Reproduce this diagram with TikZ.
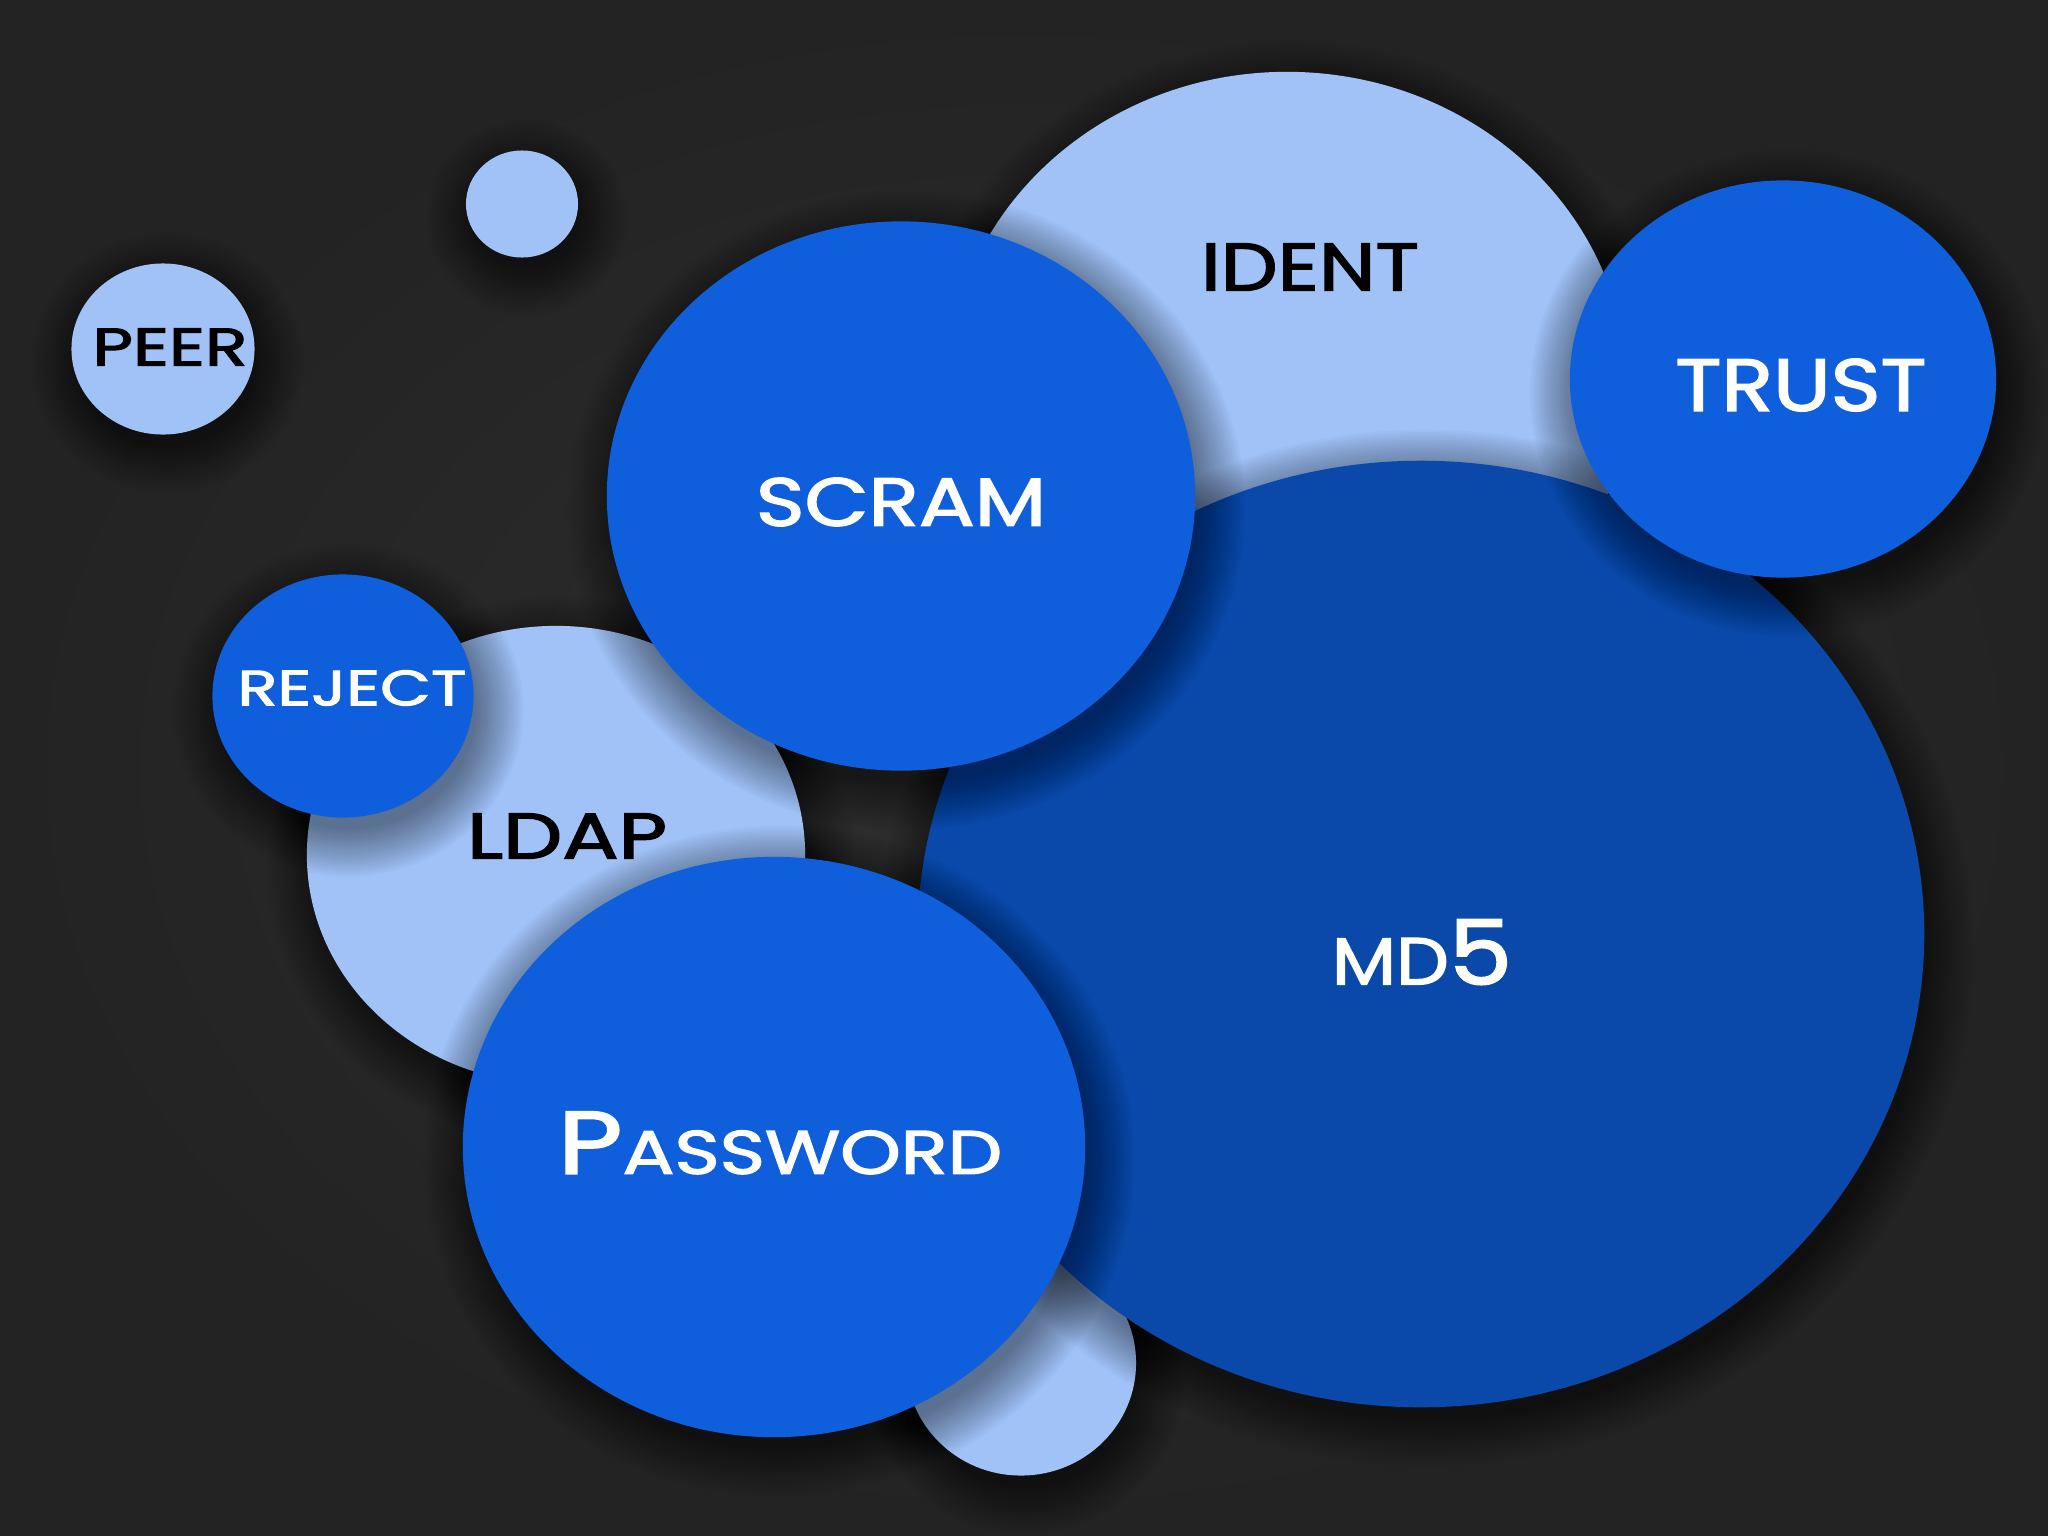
\documentclass[tikz,border=0pt]{standalone}
\usepackage{fontspec}
\setmainfont{Poppins}
\newfontfamily\lblfont{Poppins}[FakeBold=2]
\usetikzlibrary{shapes.geometric}
\definecolor{bgin}{HTML}{2E2E2E}
\definecolor{bgout}{HTML}{232323}
\definecolor{lightb}{HTML}{A0C2F7}
\definecolor{midb}{HTML}{0F5FDD}
\definecolor{darkb}{HTML}{0A48A9}
\newcommand\fittext[3]{\resizebox{#1}{#2}{#3}}
\newcommand\bubble[6]{%
  \foreach \k in {0,...,19}{
    \fill[black, opacity=0.022] ([xshift=0.05cm,yshift=-0.14cm]#3,#4)
      ellipse [x radius={#5*0.5cm+0.45cm-\k*0.025cm}, y radius={#6*0.5cm+0.45cm-\k*0.025cm}];
  }
  \node[#2, minimum width=#5cm, minimum height=#6cm] (#1) at (#3,#4) {};
}
\tikzset{
  bub/.style={ellipse, inner sep=0pt, draw=none},
  lightbub/.style={bub, fill=lightb},
  midbub/.style={bub, fill=midb},
  darkbub/.style={bub, fill=darkb},
  darktxt/.style={inner sep=0pt, text=black, font=\lblfont},
  whitetxt/.style={inner sep=0pt, text=white, font=\lblfont}
}
\begin{document}
\begin{tikzpicture}[x=0.01cm, y=-0.01cm]
\useasboundingbox (0,0) rectangle (2048,1536);
\shade[inner color=bgin, outer color=bgout] (0,0) rectangle (2048,1536);
% bubbles, back to front
\bubble{dot}{lightbub}{522}{204}{1.12}{1.07}
\bubble{peer}{lightbub}{163}{349}{1.83}{1.71}
\bubble{ident}{lightbub}{1287}{389}{6.80}{6.34}
\bubble{ldap}{lightbub}{556}{855}{4.98}{4.58}
\bubble{small}{lightbub}{1021}{1363}{2.30}{2.25}
\bubble{md5}{darkbub}{1421}{934}{10.06}{9.46}
\bubble{trust}{midbub}{1783}{379}{4.26}{3.97}
\bubble{scram}{midbub}{901}{496}{5.88}{5.49}
\bubble{reject}{midbub}{343}{696}{2.61}{2.43}
\bubble{password}{midbub}{774}{1147}{6.22}{5.80}
% labels
\node[darktxt] (peertxt) at (170,347) {\fittext{1.55cm}{0.37cm}{PEER}};
\node[darktxt] (identtxt) at (1310,267) {\fittext{2.18cm}{0.47cm}{IDENT}};
\node[darktxt] (ldaptxt) at (567,836) {\fittext{2.00cm}{0.45cm}{LDAP}};
\node[whitetxt] (trusttxt) at (1801,385) {\fittext{2.51cm}{0.52cm}{TRUST}};
\node[whitetxt] (scramtxt) at (901,502) {\fittext{2.90cm}{0.48cm}{SCRAM}};
\node[whitetxt] (rejecttxt) at (352,688) {\fittext{2.29cm}{0.35cm}{REJECT}};
\node[whitetxt] (passwordtxt) at (780,1143) {\fittext{4.44cm}{0.62cm}{P\scalebox{0.69}{ASSWORD}}};
\node[whitetxt] (md5txt) at (1422,952) {\fittext{1.80cm}{0.65cm}{\scalebox{0.74}{MD}5}};
\end{tikzpicture}
\end{document}
